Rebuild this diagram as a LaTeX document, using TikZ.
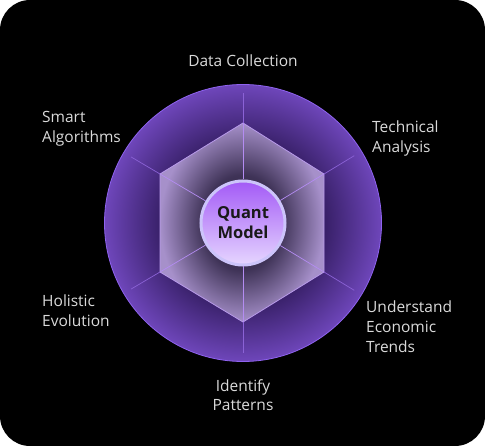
\documentclass[tikz,border=0pt]{standalone}
\usepackage{fontspec}
\setmainfont{Open Sans}
\usepackage{xcolor}
\usetikzlibrary{calc}
\definecolor{labgray}{HTML}{DADADA}
\definecolor{ringdark}{HTML}{341D62}
\definecolor{ringlight}{HTML}{6E46BA}
\definecolor{ringedge}{HTML}{8F63F0}
\definecolor{hexdark}{HTML}{251E30}
\definecolor{hexmid}{HTML}{3F3357}
\definecolor{hexlight}{HTML}{A690CA}
\definecolor{hexedge}{HTML}{B89AEA}
\definecolor{spokein}{HTML}{B48CF2}
\definecolor{spokeout}{HTML}{8B62D6}
\definecolor{hubtop}{HTML}{A35AF6}
\definecolor{hubbot}{HTML}{E6D6FF}
\definecolor{hubrim}{HTML}{CCC4FA}
\pgfdeclareradialshading{ringshade}{\pgfpoint{0bp}{0bp}}{color(0bp)=(ringdark); color(14bp)=(ringdark); color(25bp)=(ringlight); color(50bp)=(ringlight)}
\pgfdeclareradialshading{hexshade}{\pgfpoint{0bp}{0bp}}{color(0bp)=(hexdark); color(12bp)=(hexmid); color(25bp)=(hexlight); color(50bp)=(hexlight)}

\begin{document}
\begin{tikzpicture}[x=1pt,y=-1pt,
  lab/.style={text=labgray,font=\fontsize{15.5}{20}\selectfont,align=left,inner sep=0pt},
  hub/.style={circle,draw=hubrim,line width=3pt,minimum size=84pt,inner sep=0pt,
    top color=hubtop,bottom color=hubbot,align=center,
    font=\fontsize{16.5}{20}\selectfont\bfseries,text=black!90},
  spin/.style={spokein,line width=0.7pt},
  spout/.style={spokeout,line width=0.7pt}]
% frame
\useasboundingbox (0,0) rectangle (485,446);
\fill[white] (0,0) rectangle (485,446);
\fill[black,rounded corners=30pt] (0,0) rectangle (485,446);
% outer disc
\coordinate (c) at (243,223);
\shadedraw[shading=ringshade,draw=ringedge,line width=0.8pt] (c) circle[radius=138.5];
% hexagon
\foreach \n/\x/\y in {1/243/123, 2/324/174, 3/324/272, 4/243/322, 5/160/272, 6/160/174}
  \coordinate (v\n) at (\x,\y);
\shadedraw[shading=hexshade,draw=hexedge,line width=0.8pt]
  (v1) -- (v2) -- (v3) -- (v4) -- (v5) -- (v6) -- cycle;
% centre
\node[hub] (model) at (c) {Quant\\Model};
% spokes
\foreach \n in {1,...,6}{
  \coordinate (e\n) at ($(c)!130pt!(v\n)$);
  \draw[spin] (model) -- (v\n);
  \draw[spout] (v\n) -- (e\n);}
% labels (base = last line)
\node[lab,anchor=base] (data) at (243,66.5) {Data Collection};
\node[lab,anchor=base west] (algo) at (42,143) {Smart\\Algorithms};
\node[lab,anchor=base west] (tech) at (372,153) {Technical\\Analysis};
\node[lab,anchor=base west] (econ) at (366,353) {Understand\\Economic\\Trends};
\node[lab,anchor=base,align=center] (patt) at (243,411) {Identify\\Patterns};
\node[lab,anchor=base west] (holi) at (42,327) {Holistic\\Evolution};
\end{tikzpicture}
\end{document}
